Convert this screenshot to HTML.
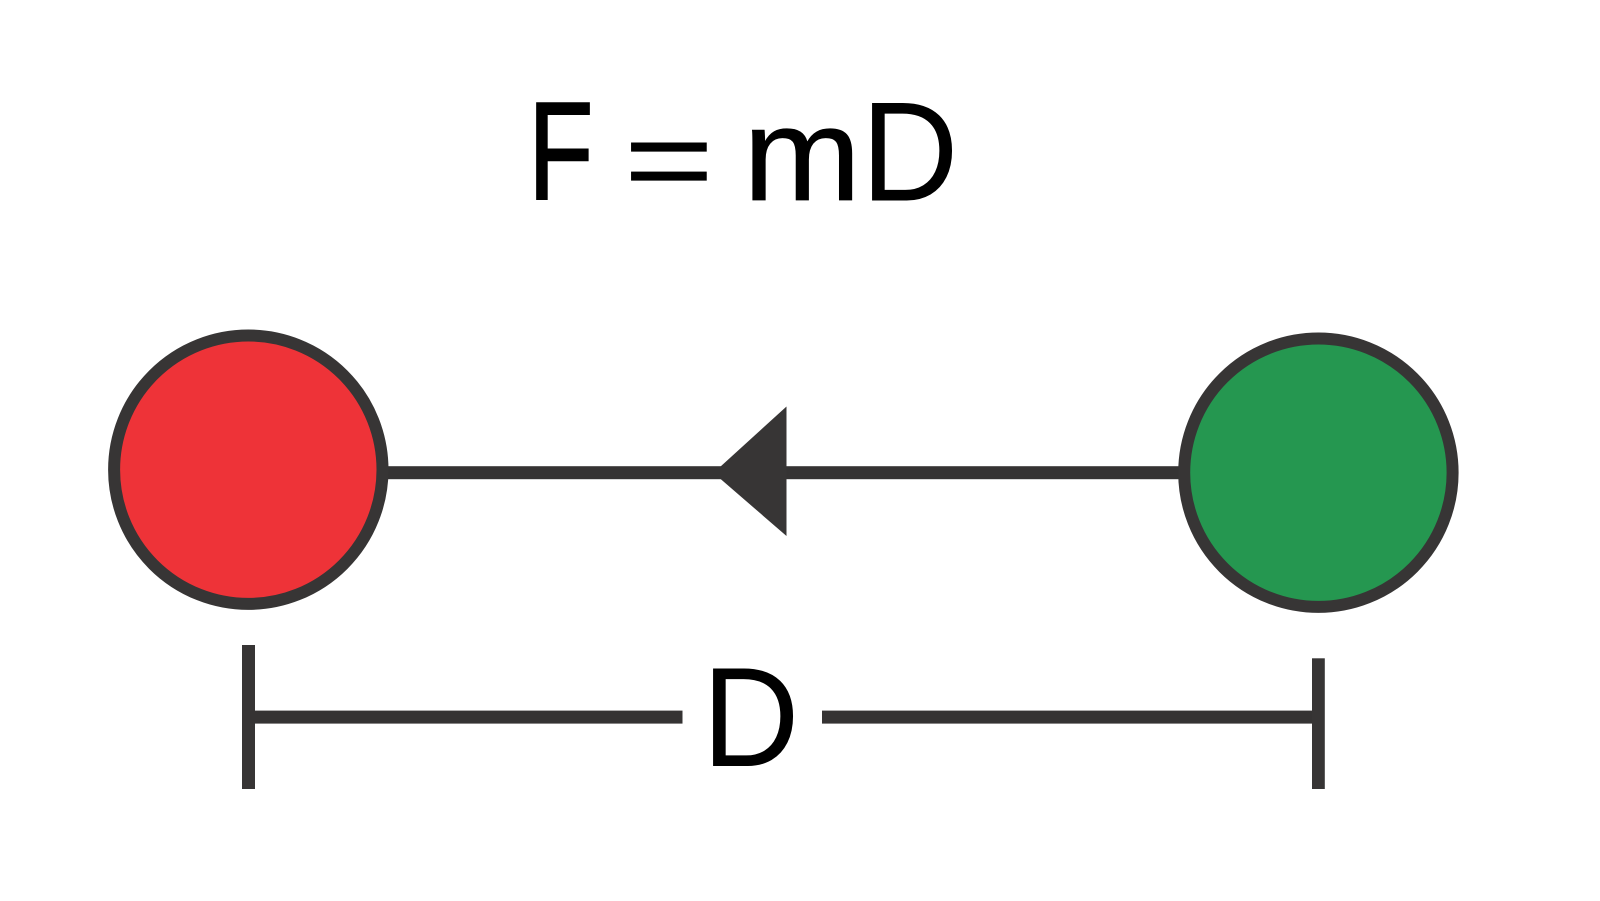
<!DOCTYPE html>
<html>
<head>
<meta charset="utf-8">
<style>
html,body{margin:0;padding:0;background:#fff;width:1600px;height:901px;overflow:hidden}
svg{display:block}
text{font-family:"Liberation Sans",sans-serif;font-size:135px;fill:#000}
</style>
</head>
<body>
<svg width="1600" height="901" viewBox="0 0 1600 901" xmlns="http://www.w3.org/2000/svg">
<rect width="1600" height="901" fill="#fff"/>
<text transform="translate(528.2 199) scale(.79 1.03)" stroke="#000" stroke-width="2">F</text>
<text transform="translate(624 199.8) scale(1.14 .86)" stroke="#000" stroke-width=".8">=</text>
<text transform="translate(743 200) scale(1.05 .98)" stroke="#000" stroke-width=".8">m</text>
<text transform="translate(861 200.5) scale(1 1.05)">D</text>
<rect x="386" y="466.2" width="796" height="13" fill="#353333"/>
<polygon points="786.5,406.5 786.5,536 720,478.5 720,467" fill="#373535"/>
<circle cx="248.3" cy="469.7" r="134.2" fill="#ee3338" stroke="#373535" stroke-width="12"/>
<circle cx="1318.4" cy="472.7" r="134.2" fill="#259750" stroke="#373535" stroke-width="12"/>
<rect x="242" y="645" width="13" height="144" fill="#373535"/>
<rect x="250" y="710.6" width="432.5" height="13" fill="#353333"/>
<rect x="822" y="710.6" width="492" height="13" fill="#353333"/>
<rect x="1312" y="658.3" width="12.8" height="130.7" fill="#373535"/>
<text transform="translate(702 766) scale(1 1.05)">D</text>
</svg>
</body>
</html>
